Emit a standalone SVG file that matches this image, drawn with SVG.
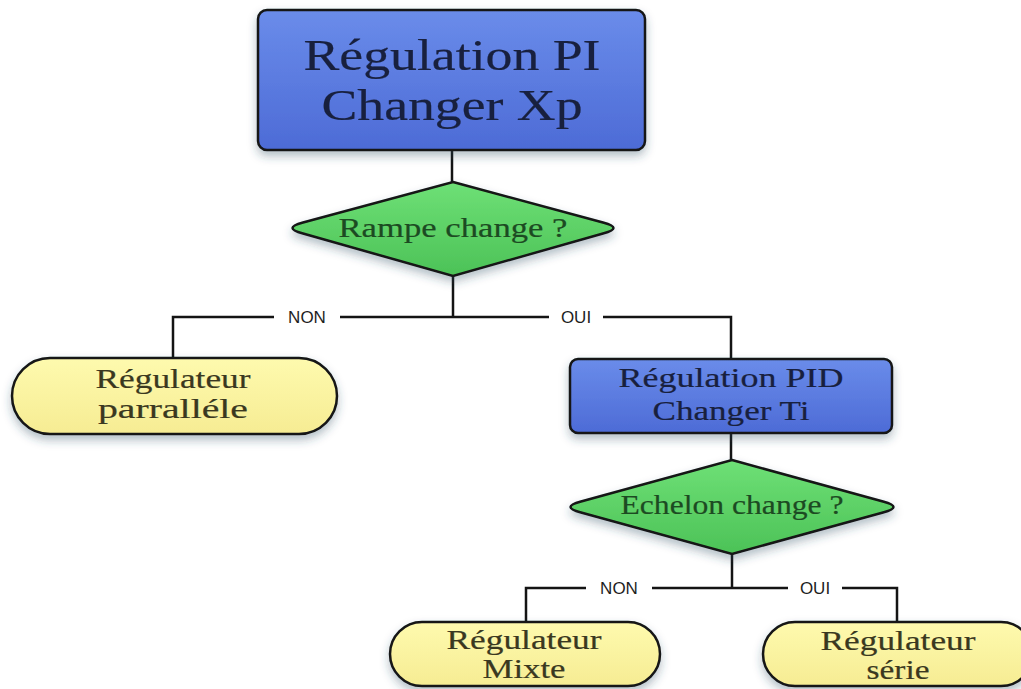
<svg xmlns="http://www.w3.org/2000/svg" width="1021" height="689" viewBox="0 0 1021 689">
  <defs>
    <linearGradient id="gBlue" x1="0" y1="0" x2="0" y2="1">
      <stop offset="0" stop-color="#6a8cea"/>
      <stop offset="1" stop-color="#4d6bd6"/>
    </linearGradient>
    <linearGradient id="gGreen" x1="0" y1="0" x2="0" y2="1">
      <stop offset="0" stop-color="#6ee076"/>
      <stop offset="1" stop-color="#4cc257"/>
    </linearGradient>
    <linearGradient id="gYellow" x1="0" y1="0" x2="0" y2="1">
      <stop offset="0" stop-color="#fefaae"/>
      <stop offset="1" stop-color="#f6ec93"/>
    </linearGradient>
    <filter id="shadow" x="-10%" y="-20%" width="120%" height="150%">
      <feDropShadow dx="0" dy="5" stdDeviation="5" flood-color="#2a4a60" flood-opacity="0.35"/>
    </filter>
  </defs>
  <style>
    .shape { stroke: #141414; stroke-width: 2.5; filter: url(#shadow); }
    .blue { fill: url(#gBlue); }
    .green { fill: url(#gGreen); }
    .yellow { fill: url(#gYellow); }
    .t { font-family: "Liberation Serif", "Times New Roman", serif; text-anchor: middle; stroke-width: 0.2; }
    .tb { fill: #18203e; stroke: #18203e; }
    .tg { fill: #1c4a22; stroke: #1c4a22; }
    .ty { fill: #3a3820; stroke: #3a3820; }
    .conn { fill: none; stroke: #141414; stroke-width: 2.5; }
    .lbg { fill: #ffffff; }
    .lbl { font-family: "Liberation Sans", Arial, sans-serif; font-size: 17px; fill: #1e1e1e; text-anchor: middle; }
  </style>
  <rect x="0" y="0" width="1021" height="689" fill="#ffffff"/>

  <g id="connectors">
    <path class="conn" d="M452,150 L452,182"/>
    <path class="conn" d="M453,276 L453,317"/>
    <path class="conn" d="M173,358 L173,317 L731,317 L731,359"/>
    <path class="conn" d="M731,433 L731,460"/>
    <path class="conn" d="M732,554 L732,588"/>
    <path class="conn" d="M526,622 L526,588 L897,588 L897,622"/>
    <rect class="lbg" x="274" y="306" width="66" height="22"/>
    <text class="lbl" x="307" y="323">NON</text>
    <rect class="lbg" x="549" y="306" width="54" height="22"/>
    <text class="lbl" x="576" y="323">OUI</text>
    <rect class="lbg" x="586" y="577" width="66" height="22"/>
    <text class="lbl" x="619" y="594">NON</text>
    <rect class="lbg" x="788" y="577" width="54" height="22"/>
    <text class="lbl" x="815" y="594">OUI</text>
  </g>

  <g id="node-pi">
    <rect class="shape blue" x="258" y="10" width="387" height="140" rx="9"/>
    <text class="t tb" x="452" y="70" font-size="44" textLength="297" lengthAdjust="spacingAndGlyphs">Régulation PI</text>
    <text class="t tb" x="452" y="120" font-size="44" textLength="261" lengthAdjust="spacingAndGlyphs">Changer Xp</text>
  </g>

  <g id="node-rampe">
    <path class="shape green" d="M453,182 L603,222.5 Q624,228 603,233.5 L453,276 L303,233.5 Q282,228 303,222.5 Z"/>
    <text class="t tg" x="453" y="237" font-size="28" textLength="229" lengthAdjust="spacingAndGlyphs">Rampe change ?</text>
  </g>

  <g id="node-parallele">
    <rect class="shape yellow" x="12" y="358" width="325" height="76" rx="38"/>
    <text class="t ty" x="173" y="388" font-size="27" textLength="155" lengthAdjust="spacingAndGlyphs">Régulateur</text>
    <text class="t ty" x="173" y="418" font-size="27" textLength="150" lengthAdjust="spacingAndGlyphs">parralléle</text>
  </g>

  <g id="node-pid">
    <rect class="shape blue" x="570" y="359" width="322" height="74" rx="8"/>
    <text class="t tb" x="731" y="387" font-size="28" textLength="225" lengthAdjust="spacingAndGlyphs">Régulation PID</text>
    <text class="t tb" x="731" y="420" font-size="28" textLength="157" lengthAdjust="spacingAndGlyphs">Changer Ti</text>
  </g>

  <g id="node-echelon">
    <path class="shape green" d="M732,460 L883,501.5 Q904,507 883,512.5 L732,554 L581,512.5 Q560,507 581,501.5 Z"/>
    <text class="t tg" x="732" y="514" font-size="28" textLength="223" lengthAdjust="spacingAndGlyphs">Echelon change ?</text>
  </g>

  <g id="node-mixte">
    <rect class="shape yellow" x="390" y="622" width="270" height="64" rx="32"/>
    <text class="t ty" x="524" y="649" font-size="27" textLength="155" lengthAdjust="spacingAndGlyphs">Régulateur</text>
    <text class="t ty" x="524" y="678" font-size="27" textLength="83" lengthAdjust="spacingAndGlyphs">Mixte</text>
  </g>

  <g id="node-serie">
    <rect class="shape yellow" x="763" y="622" width="270" height="64" rx="32"/>
    <text class="t ty" x="898" y="650" font-size="27" textLength="155" lengthAdjust="spacingAndGlyphs">Régulateur</text>
    <text class="t ty" x="898" y="679" font-size="27" textLength="63" lengthAdjust="spacingAndGlyphs">série</text>
  </g>
</svg>
